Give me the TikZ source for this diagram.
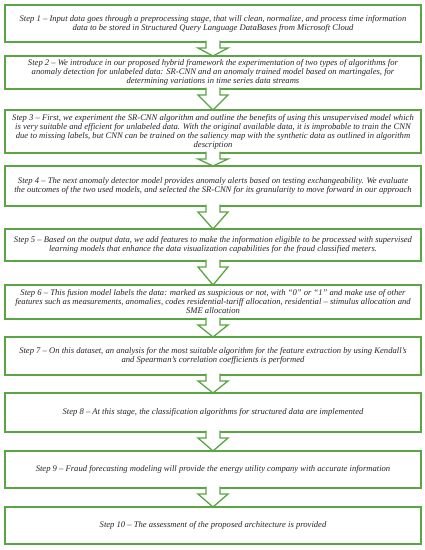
\documentclass[tikz,border=0pt]{standalone}
\usepackage{fontspec}
\setmainfont{Liberation Serif}
\usetikzlibrary{calc}
\definecolor{boxgreen}{RGB}{90,165,68}
\tikzset{
  stepbox/.style={draw=boxgreen, line width=1.3pt, fill=white, minimum width=416pt,
    inner sep=0pt, outer sep=0pt, align=center, text=black!85,
    font=\fontsize{8.6}{9}\selectfont\itshape},
  blockarr/.style={draw=boxgreen, line width=1.3pt, fill=white, line join=miter}
}
\newcommand{\stepconn}[2]{%
  \path[blockarr] let \p1=(#1.south), \p2=(#2.north) in
    (\x1-7pt,\y1+1.3pt) -- (\x1-7pt,\y1-6pt) -- (\x1-15pt,\y1-6pt) -- (\x2,\y2)
    -- (\x1+15pt,\y1-6pt) -- (\x1+7pt,\y1-6pt) -- (\x1+7pt,\y1+1.3pt);
}
\begin{document}
\begin{tikzpicture}[x=1pt,y=1pt]
\useasboundingbox (0,0) rectangle (424,-550);
\node[stepbox, minimum height=37pt] (b1) at (213,-23.5) {Step 1 -- Input data goes through a preprocessing stage, that will clean, normalize, and process time information\\ data to be stored in Structured Query Language DataBases from Microsoft Cloud};
\node[stepbox, minimum height=33pt] (b2) at (213,-72.5) {Step 2 -- We introduce in our proposed hybrid framework the experimentation of two types of algorithms for\\ anomaly detection for unlabeled data: SR-CNN and an anomaly trained model based on martingales, for\\ determining variations in time series data streams};
\node[stepbox, minimum height=43pt] (b3) at (213,-131.5) {Step 3 -- First, we experiment the SR-CNN algorithm and outline the benefits of using this unsupervised model which\\ is very suitable and efficient for unlabeled data. With the original available data, it is improbable to train the CNN\\ due to missing labels, but CNN can be trained on the saliency map with the synthetic data as outlined in algorithm\\ description};
\node[stepbox, minimum height=40pt] (b4) at (213,-186) {Step 4 -- The next anomaly detector model provides anomaly alerts based on testing exchangeability. We evaluate\\ the outcomes of the two used models, and selected the SR-CNN for its granularity to move forward in our approach};
\node[stepbox, minimum height=32pt] (b5) at (213,-245) {Step 5 -- Based on the output data, we add features to make the information eligible to be processed with supervised\\ learning models that enhance the data visualization capabilities for the fraud classified meters.};
\node[stepbox, minimum height=34pt] (b6) at (213,-302) {Step 6 -- This fusion model labels the data: marked as suspicious or not, with “0” or “1” and make use of other\\ features such as measurements, anomalies, codes residential-tariff allocation, residential -- stimulus allocation and\\ SME allocation};
\node[stepbox, minimum height=38pt] (b7) at (213,-356) {Step 7 -- On this dataset, an analysis for the most suitable algorithm for the feature extraction by using Kendall’s\\ and Spearman’s correlation coefficients is performed};
\node[stepbox, minimum height=39pt] (b8) at (213,-412.5) {Step 8 -- At this stage, the classification algorithms for structured data are implemented};
\node[stepbox, minimum height=37pt] (b9) at (213,-469.5) {Step 9 -- Fraud forecasting modeling will provide the energy utility company with accurate information};
\node[stepbox, minimum height=37pt] (b10) at (213,-525.5) {Step 10 -- The assessment of the proposed architecture is provided};
\stepconn{b1}{b2}
\stepconn{b2}{b3}
\stepconn{b3}{b4}
\stepconn{b4}{b5}
\stepconn{b5}{b6}
\stepconn{b6}{b7}
\stepconn{b7}{b8}
\stepconn{b8}{b9}
\stepconn{b9}{b10}
\end{tikzpicture}
\end{document}
